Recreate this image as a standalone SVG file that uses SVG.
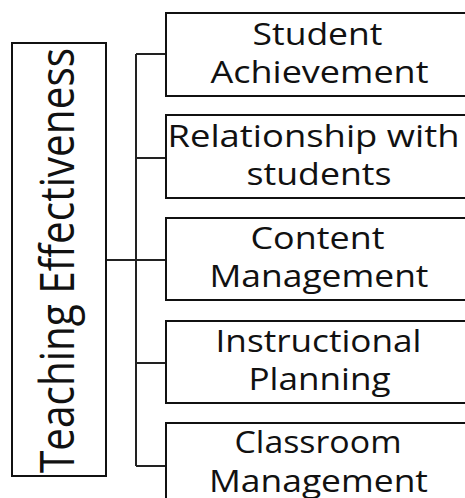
<svg xmlns="http://www.w3.org/2000/svg" width="465" height="498" viewBox="0 0 465 498">
<style>
.box{fill:#ffffff;stroke:#111111;stroke-width:2}
.lbl{font-family:"Open Sans","Liberation Sans",sans-serif;font-size:31px;fill:#111111;text-anchor:middle}
.root{font-family:"Open Sans","Liberation Sans",sans-serif;font-size:40px;fill:#111111}
.conn{fill:none;stroke:#222222;stroke-width:2}
</style>
<rect width="465" height="498" fill="#ffffff"/>
<g id="connectors">
<path class="conn" d="M106,260 H136 M136,54 V466 M136,54 H166 M136,158 H166 M136,260 H166 M136,363 H166 M136,466 H166"/>
</g>
<g id="node-root">
<rect class="box" x="12" y="43" width="94" height="433"/>
<text class="root" transform="translate(74,473) scale(1.18,1) rotate(-90)" textLength="425" lengthAdjust="spacingAndGlyphs">Teaching Effectiveness</text>
</g>
<g id="node-student-achievement">
<rect class="box" x="166" y="13" width="310" height="83"/>
<text class="lbl" x="317.5" y="45" textLength="130" lengthAdjust="spacingAndGlyphs">Student</text>
<text class="lbl" x="319.5" y="83" textLength="218" lengthAdjust="spacingAndGlyphs">Achievement</text>
</g>
<g id="node-relationship">
<rect class="box" x="166" y="115" width="310" height="83"/>
<text class="lbl" x="313.5" y="147" textLength="292" lengthAdjust="spacingAndGlyphs">Relationship with</text>
<text class="lbl" x="319" y="185" textLength="145" lengthAdjust="spacingAndGlyphs">students</text>
</g>
<g id="node-content-management">
<rect class="box" x="166" y="218" width="310" height="82"/>
<text class="lbl" x="317.5" y="249" textLength="134" lengthAdjust="spacingAndGlyphs">Content</text>
<text class="lbl" x="319" y="287" textLength="219" lengthAdjust="spacingAndGlyphs">Management</text>
</g>
<g id="node-instructional-planning">
<rect class="box" x="166" y="321" width="310" height="82"/>
<text class="lbl" x="318.5" y="352" textLength="206" lengthAdjust="spacingAndGlyphs">Instructional</text>
<text class="lbl" x="319.5" y="390" textLength="142" lengthAdjust="spacingAndGlyphs">Planning</text>
</g>
<g id="node-classroom-management">
<rect class="box" x="166" y="423" width="310" height="90"/>
<text class="lbl" x="318" y="453" textLength="167" lengthAdjust="spacingAndGlyphs">Classroom</text>
<text class="lbl" x="318.5" y="492" textLength="219" lengthAdjust="spacingAndGlyphs">Management</text>
</g>
</svg>
